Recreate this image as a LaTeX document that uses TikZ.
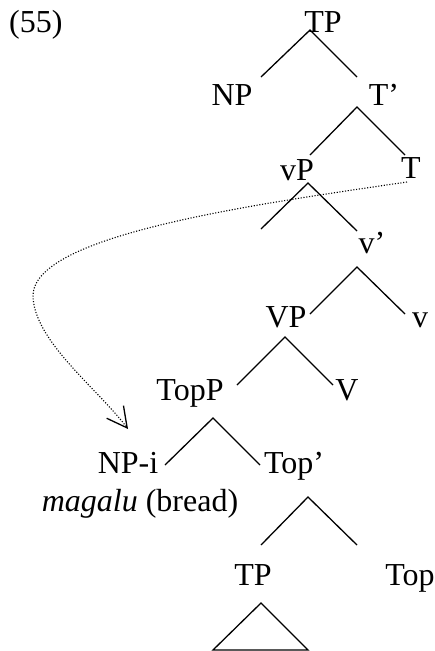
\documentclass[tikz,border=0pt]{standalone}
\usepackage{fontspec}
\setmainfont{Liberation Serif}
\usetikzlibrary{arrows.meta}
\begin{document}
\begin{tikzpicture}[x=1pt,y=-1pt,
  lbl/.style={inner sep=0pt,anchor=base,font=\fontsize{32}{38}\selectfont},
  branch/.style={line width=1.3pt},
  movement/.style={line width=1.1pt,dash pattern=on 1.1pt off 1.7pt,
    -{Straight Barb[length=20pt,width=21pt,line width=1.3pt]}}]
\useasboundingbox (0,0) rectangle (435,651);
% labels
\node[lbl,anchor=base west] (ex) at (9,32) {(55)};
\node[lbl] (tp) at (323,32) {TP};
\node[lbl] (np) at (232,105) {NP};
\node[lbl] (tbar) at (384,105) {T’};
\node[lbl] (vp) at (297,180) {vP};
\node[lbl] (t) at (411,178) {T};
\node[lbl] (vbar) at (372,253) {v’};
\node[lbl] (bigvp) at (286,327) {VP};
\node[lbl] (v) at (420,327) {v};
\node[lbl] (topp) at (190,400) {TopP};
\node[lbl] (bigv) at (347,400) {V};
\node[lbl] (npi) at (128,473) {NP-i};
\node[lbl] (topbar) at (294,473) {Top’};
\node[lbl] (magalu) at (140,511) {\textit{magalu} (bread)};
\node[lbl] (tplow) at (253,585) {TP};
\node[lbl] (top) at (410,585) {Top};
% branch points
\coordinate (a1) at (310,30);  \coordinate (l1) at (261,77);  \coordinate (r1) at (357,77);
\coordinate (a2) at (357,107); \coordinate (l2) at (310,155); \coordinate (r2) at (405,155);
\coordinate (a3) at (308,183); \coordinate (l3) at (261,229); \coordinate (r3) at (357,231);
\coordinate (a4) at (357,267); \coordinate (l4) at (310,314); \coordinate (r4) at (405,314);
\coordinate (a5) at (285,337); \coordinate (l5) at (237,385); \coordinate (r5) at (333,385);
\coordinate (a6) at (213,418); \coordinate (l6) at (165,465); \coordinate (r6) at (260,465);
\coordinate (a7) at (308,497); \coordinate (l7) at (261,545); \coordinate (r7) at (357,545);
\coordinate (ta) at (261,603); \coordinate (tl) at (213,650); \coordinate (tr) at (308,650);
\foreach \i in {1,...,7}{
  \draw[branch] (l\i) -- (a\i) -- (r\i);
}
\draw[branch,line join=miter] (ta) -- (tl) -- (tr) -- cycle;
% movement arrow
\coordinate (mstart) at (407,182);
\coordinate (mbend) at (33,295);
\coordinate (mend) at (128,429);
\draw[movement] (mstart) .. controls (250,205) and (35,235) .. (mbend)
  .. controls (33,340) and (97,388) .. (mend);
\end{tikzpicture}
\end{document}
